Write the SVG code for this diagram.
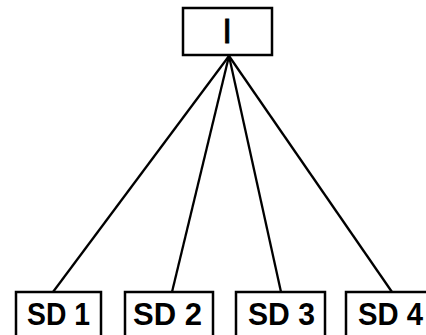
<svg xmlns="http://www.w3.org/2000/svg" width="426" height="335" viewBox="0 0 426 335">
  <style>
    .box { fill: #fff; stroke: #000; stroke-width: 2.5; }
    .lbl { font-family: "Liberation Sans", Arial, sans-serif; font-size: 31px; font-weight: bold; fill: #000; }
    .edge { stroke: #000; stroke-width: 2.3; fill: none; }
  </style>
  <rect width="426" height="335" fill="#fff"/>
  <g id="connectors">
    <line class="edge" x1="229" y1="56" x2="53" y2="292"/>
    <line class="edge" x1="229" y1="56" x2="172" y2="292"/>
    <line class="edge" x1="229" y1="56" x2="281" y2="292"/>
    <line class="edge" x1="229" y1="56" x2="392" y2="292"/>
  </g>
  <g id="node-I">
    <rect class="box" x="183" y="8" width="89" height="47"/>
    <text class="lbl" x="227" y="43" text-anchor="middle" style="font-size:35px;font-weight:normal;stroke:#000;stroke-width:0.8">I</text>
  </g>
  <g id="node-SD1">
    <rect class="box" x="16" y="292" width="85" height="50"/>
    <text class="lbl" x="27" y="325" textLength="63" lengthAdjust="spacingAndGlyphs">SD 1</text>
  </g>
  <g id="node-SD2">
    <rect class="box" x="125" y="292" width="88" height="50"/>
    <text class="lbl" x="133" y="325" textLength="69" lengthAdjust="spacingAndGlyphs">SD 2</text>
  </g>
  <g id="node-SD3">
    <rect class="box" x="236" y="292" width="89" height="50"/>
    <text class="lbl" x="248" y="325" textLength="67" lengthAdjust="spacingAndGlyphs">SD 3</text>
  </g>
  <g id="node-SD4">
    <rect class="box" x="346" y="292" width="90" height="50"/>
    <text class="lbl" x="358" y="325" textLength="65" lengthAdjust="spacingAndGlyphs">SD 4</text>
  </g>
</svg>
